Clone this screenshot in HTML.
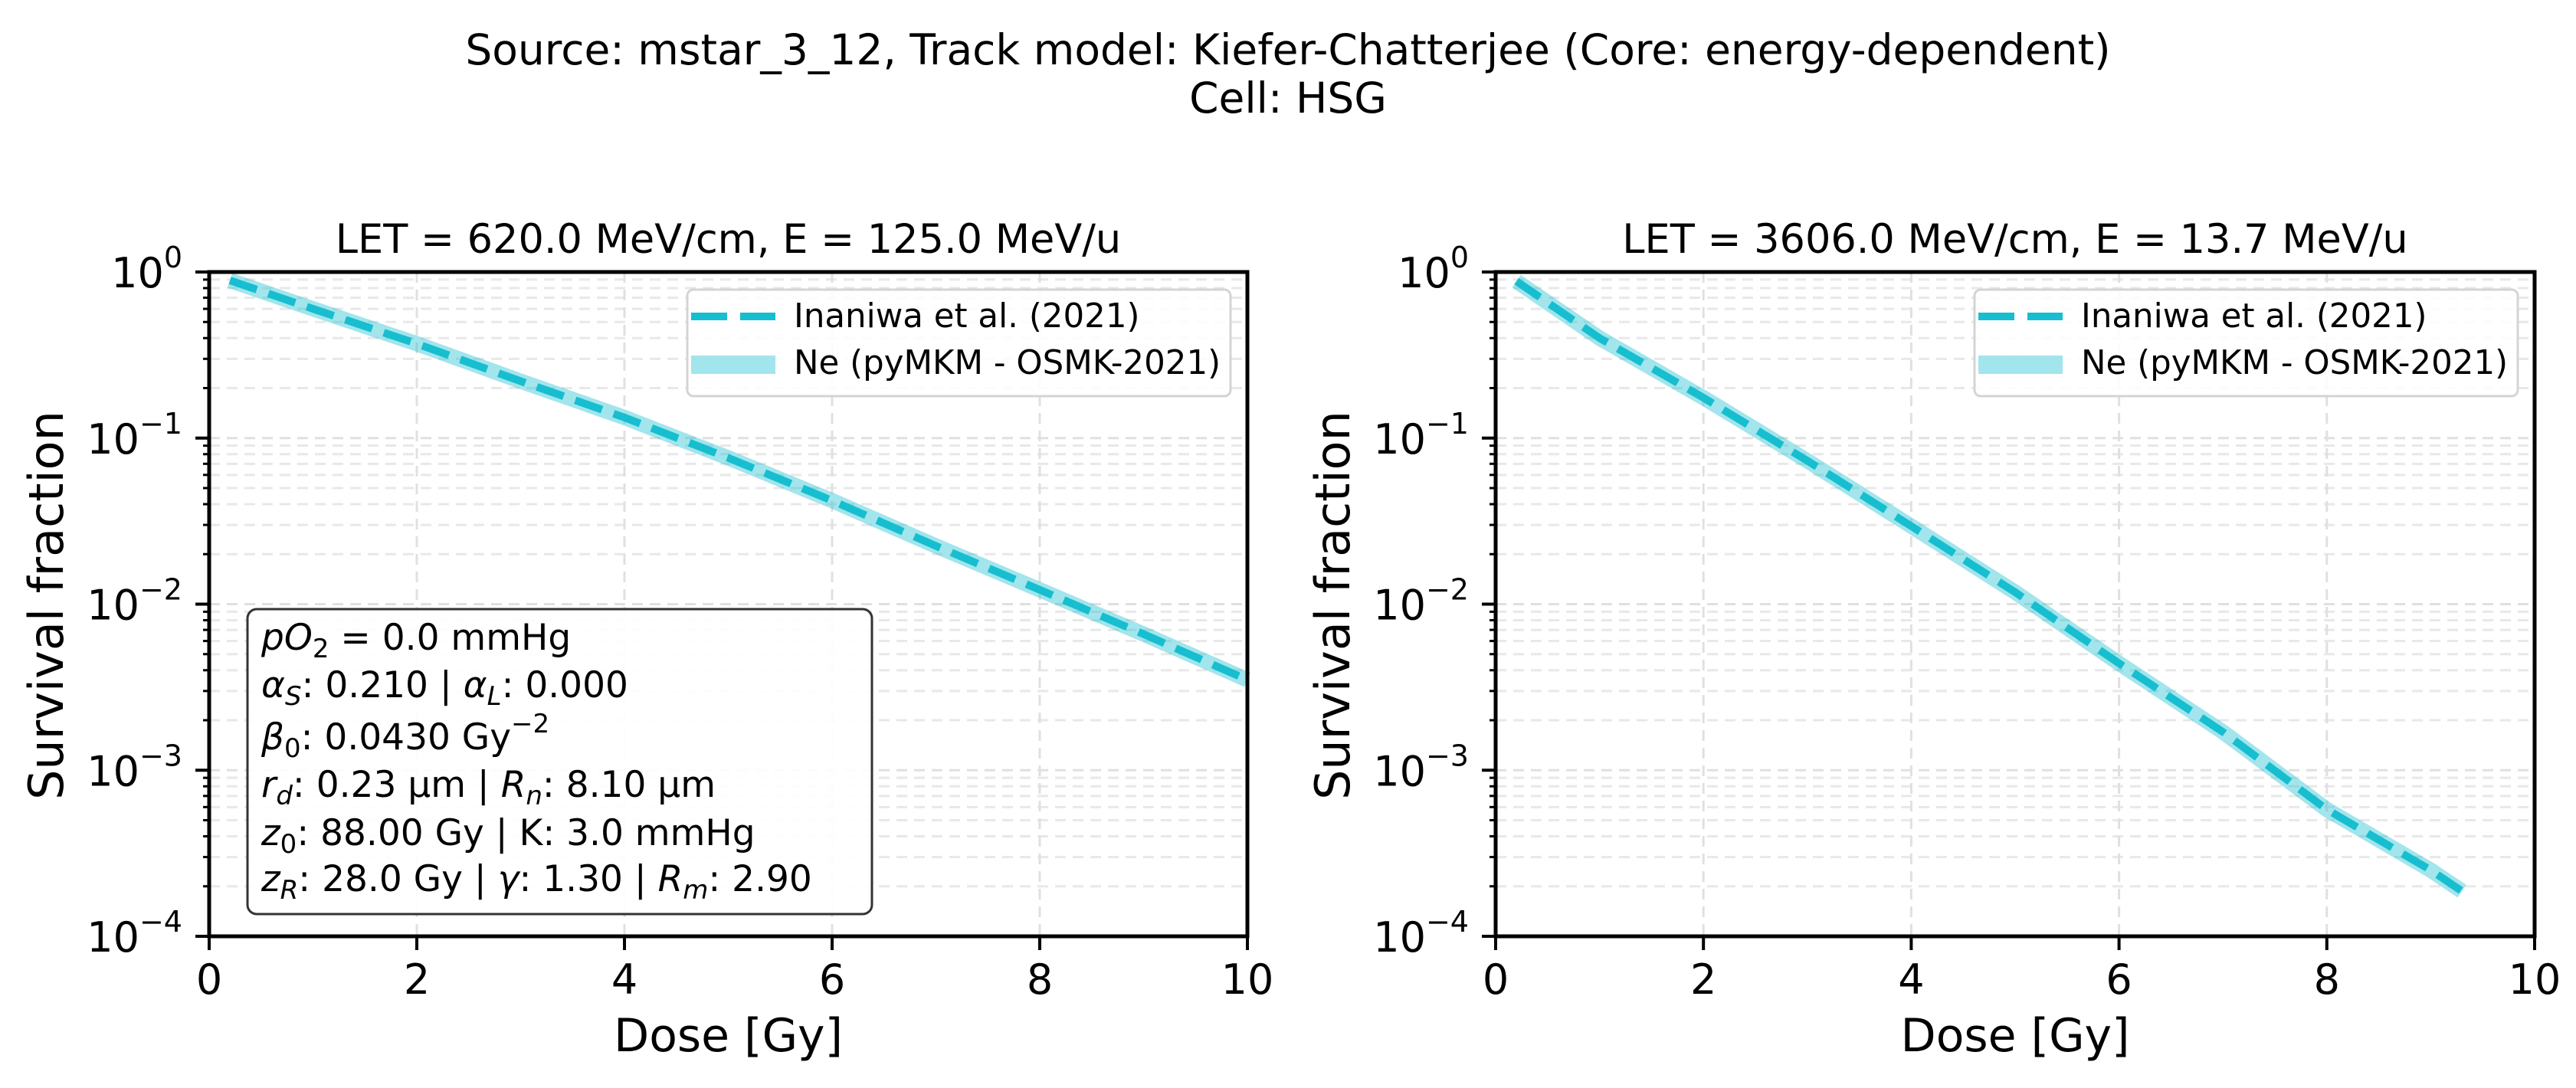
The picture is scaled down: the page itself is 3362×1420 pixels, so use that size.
<!DOCTYPE html>
<html><head><meta charset="utf-8"><style>
html,body{margin:0;padding:0;background:#fff;}
svg{display:block;font-family:"DejaVu Sans","Liberation Sans",sans-serif;}
</style></head><body>
<svg id="fig" width="3362" height="1420" viewBox="0 0 3362 1420" xmlns="http://www.w3.org/2000/svg">
<text x="1681" y="84" font-size="55" text-anchor="middle">Source: mstar_3_12, Track model: Kiefer-Chatterjee (Core: energy-dependent)</text>
<text x="1681" y="147" font-size="55" text-anchor="middle">Cell: HSG</text>
<g id="p0"></g>
<g id="p1"></g>
</svg>
<script>
const xTicks = [0, 2, 4, 6, 8, 10];
const yExps = [0, -1, -2, -3, -4];
const leftDose = [0.2, 1, 2, 3, 4, 5, 6, 7, 8, 9, 10];
const leftRef = [0.89, 0.6, 0.37, 0.22, 0.133, 0.076, 0.042, 0.0224, 0.0122, 0.0066, 0.0035];
const leftModel = [0.89, 0.6, 0.37, 0.22, 0.133, 0.076, 0.042, 0.0224, 0.0122, 0.0066, 0.0035];
const rightDose = [0.2, 1, 2, 3, 4, 5, 6, 7, 8, 9, 9.3];
const rightRef = [0.88, 0.4, 0.175, 0.073, 0.0295, 0.0118, 0.0044, 0.0017, 0.00058, 0.00025, 0.000187];
const rightModel = [0.88, 0.4, 0.175, 0.073, 0.0295, 0.0118, 0.0044, 0.0017, 0.00058, 0.00025, 0.000187];
const titles = ["LET = 620.0 MeV/cm, E = 125.0 MeV/u", "LET = 3606.0 MeV/cm, E = 13.7 MeV/u"];
const legendLabels = ["Inaniwa et al. (2021)", "Ne (pyMKM - OSMK-2021)"];

const NS = "http://www.w3.org/2000/svg";
function mk(parent, tag, attrs, text){
  const e = document.createElementNS(NS, tag);
  for (const k in attrs) e.setAttribute(k, attrs[k]);
  if (text !== undefined) e.textContent = text;
  parent.appendChild(e); return e;
}
const panels = [
  {g: document.getElementById('p0'), L: 273, R: 1628, dose: leftDose, ref: leftRef, model: leftModel, lx: 897, info: true, title: titles[0]},
  {g: document.getElementById('p1'), L: 1952, R: 3308, dose: rightDose, ref: rightRef, model: rightModel, lx: 2577, info: false, title: titles[1]}
];
const T = 355, B = 1222;
panels.forEach((p, pi) => {
  const g = p.g;
  const xs = v => p.L + (v - 0) / 10 * (p.R - p.L);
  const ys = v => T + (0 - Math.log10(v)) / 4 * (B - T);
  for (let d = 0; d < 4; d++) {
    for (let m = 2; m <= 9; m++) {
      const y = ys(m * Math.pow(10, -d - 1));
      const gl = mk(g, 'line', {x1: p.L, x2: p.R, y1: y, y2: y, stroke: '#e8e8e8', 'stroke-width': 3, 'stroke-dasharray': '14 9'});
      
      
      const mt = mk(g, 'line', {x1: p.L - 8, x2: p.L, y1: y, y2: y, stroke: '#000', 'stroke-width': 3});
      
      
    }
  }
  yExps.forEach(e => {
    const y = ys(Math.pow(10, e));
    const gl = mk(g, 'line', {x1: p.L, x2: p.R, y1: y, y2: y, stroke: '#e0e0e0', 'stroke-width': 3, 'stroke-dasharray': '14 9'});
    
    
  });
  xTicks.forEach(v => {
    const x = xs(v);
    const gl = mk(g, 'line', {x1: x, x2: x, y1: T, y2: B, stroke: '#e0e0e0', 'stroke-width': 3, 'stroke-dasharray': '14 9'});
    
    
  });
  const pts = (arr) => p.dose.map((d, i) => xs(d).toFixed(1) + ',' + ys(arr[i]).toFixed(1)).join(' ');
  const band = mk(g, 'polyline', {points: pts(p.model), fill: 'none', stroke: '#17becf', 'stroke-opacity': 0.4, 'stroke-width': 20, 'stroke-linejoin': 'round'});
  
  
  const dash = mk(g, 'polyline', {points: pts(p.ref), fill: 'none', stroke: '#17becf', 'stroke-width': 10, 'stroke-dasharray': '37 16'});
  
  
  const fr = mk(g, 'rect', {x: p.L, y: T, width: p.R - p.L, height: B - T, fill: 'none', stroke: '#000', 'stroke-width': 5});
  
  
  yExps.forEach(e => {
    const y = ys(Math.pow(10, e));
    const t = mk(g, 'line', {x1: p.L - 18, x2: p.L, y1: y, y2: y, stroke: '#000', 'stroke-width': 4});
    
    
    const lab = mk(g, 'text', {x: p.L - 35, y: y + 20, 'font-size': 54, 'text-anchor': 'end'});
    
    
    mk(lab, 'tspan', {}, '10');
    mk(lab, 'tspan', {dy: -26, 'font-size': 38}, e === 0 ? '0' : '\u2212' + (-e));
  });
  xTicks.forEach(v => {
    const x = xs(v);
    const t = mk(g, 'line', {x1: x, x2: x, y1: B, y2: B + 18, stroke: '#000', 'stroke-width': 4});
    
    
    const lab = mk(g, 'text', {x: x, y: 1297, 'font-size': 54, 'text-anchor': 'middle'}, String(v));
    
    
  });
  const cx = (p.L + p.R) / 2;
  const ti = mk(g, 'text', {x: cx, y: 330, 'font-size': 52.5, 'text-anchor': 'middle'}, p.title);
  
  
  const xl = mk(g, 'text', {x: cx, y: 1372, 'font-size': 60, 'text-anchor': 'middle'}, 'Dose [Gy]');
  
  
  const yx = p.L - 191;
  const yl = mk(g, 'text', {x: yx, y: 790, 'font-size': 62, 'text-anchor': 'middle', transform: 'rotate(-90 ' + yx + ' 790)'}, 'Survival fraction');
  
  
  const lg = mk(g, 'g', {});
  
  
  mk(lg, 'rect', {x: p.lx, y: 378, width: 709, height: 139, rx: 8, fill: '#fff', 'fill-opacity': 0.85, stroke: '#d4d4d4', 'stroke-width': 3});
  const h1 = mk(lg, 'line', {x1: p.lx + 5, x2: p.lx + 115, y1: 413, y2: 413, stroke: '#17becf', 'stroke-width': 10, 'stroke-dasharray': '47 17'});
  
  
  const t1 = mk(lg, 'text', {x: p.lx + 139, y: 427, 'font-size': 43.5}, legendLabels[0]);
  
  
  const h2 = mk(lg, 'line', {x1: p.lx + 5, x2: p.lx + 115, y1: 476, y2: 476, stroke: '#17becf', 'stroke-opacity': 0.4, 'stroke-width': 24});
  
  
  const t2 = mk(lg, 'text', {x: p.lx + 139, y: 488, 'font-size': 43.5}, legendLabels[1]);
  
  
  if (p.info) {
    const ib = mk(g, 'g', {});
    
    
    mk(ib, 'rect', {x: 323, y: 795, width: 815, height: 398, rx: 12, fill: '#fff', 'fill-opacity': 0.9, stroke: '#333', 'stroke-width': 3});
    const lines = [
      [['i','pO'],['s','2'],['n',' = 0.0 mmHg']],
      [['i','α'],['s','S'],['n',': 0.210 | '],['i','α'],['s','L'],['n',': 0.000']],
      [['i','β'],['s','0'],['n',': 0.0430 Gy'],['p','−2']],
      [['i','r'],['s','d'],['n',': 0.23 µm | '],['i','R'],['s','n'],['n',': 8.10 µm']],
      [['i','z'],['s','0'],['n',': 88.00 Gy | K: 3.0 mmHg']],
      [['i','z'],['s','R'],['n',': 28.0 Gy | '],['i','γ'],['n',': 1.30 | '],['i','R'],['s','m'],['n',': 2.90']]
    ];
    const base = [848, 910, 978, 1040, 1103, 1163];
    lines.forEach((ln, i) => {
      const t = mk(ib, 'text', {x: 341, y: base[i], 'font-size': 47});
      
      
      let pending = 0;
      ln.forEach(([k, s]) => {
        if (k === 's') {
          const digit = /^[0-9]$/.test(s);
          mk(t, 'tspan', {'font-size': 34, dy: 10 + pending, 'font-style': digit ? 'normal' : 'italic'}, s);
          pending = -10;
        } else if (k === 'p') {
          mk(t, 'tspan', {'font-size': 34, dy: -22 + pending}, s);
          pending = 22;
        } else {
          mk(t, 'tspan', {'font-style': k === 'i' ? 'italic' : 'normal', dy: pending}, s);
          pending = 0;
        }
      });
    });
  }
});
</script>
</body></html>
